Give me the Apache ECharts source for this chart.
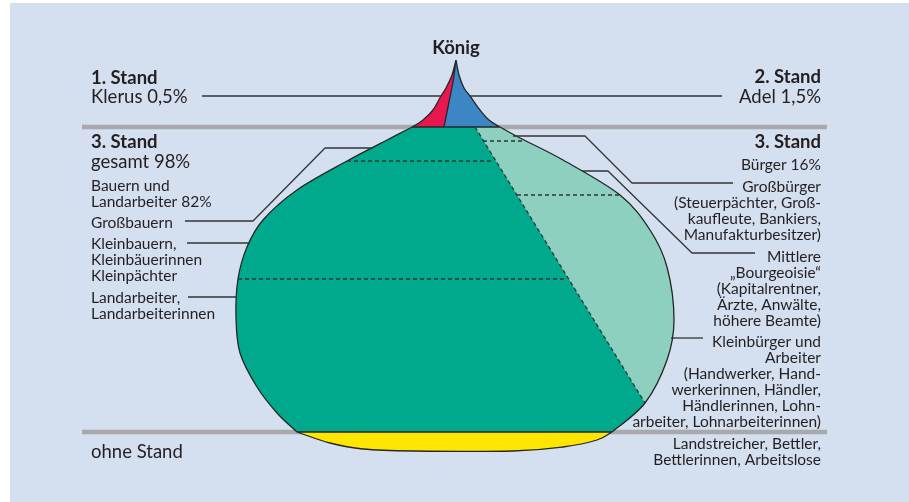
<!DOCTYPE html>
<html><head><meta charset="utf-8">
<script src="https://cdn.jsdelivr.net/npm/echarts/dist/echarts.min.js"></script>
<style>html,body{margin:0;padding:0;background:#fff}#c{width:909px;height:502px}</style>
</head><body><div id="c"></div>
<script>
// Shares of the estates (percent of population), as given in the picture
const estates = ['Klerus', 'Adel', 'Bauern und Landarbeiter', 'Bürger', 'ohne Stand'];
const shares = [0.5, 1.5, 82, 16, null];

// Outline of the "onion" (plot units of a 909 x 502 frame)
const leftOutline = [[456,60],[452,75],[446,88],[441,96],[433,110],[423,120],[412,127],[387,140],[347,161],[297,190],[263,220],[247,247],[238,279],[236,317],[240,353],[257,387],[277,413],[297,432]];
const rightOutline = [[456,60],[459,75],[464,88],[470,96],[480,110],[489,120],[500,127],[520,138],[563,160],[620,195],[650,230],[667,267],[674,320],[667,360],[645,403],[612,432]];
const bottomOutline = [[297,432],[330,443],[363,449],[413,451],[513,451],[563,447],[597,440],[612,432]];
const spireSplit = [[456,60],[453,82],[449,102],[444,127]];
const buergerTop = [475,127];
const standLines = [[[82,127],[827,127]], [[82,432],[827,432]]];
const dashedLines = [[[347,161],[493,161]], [[238,279],[567,279]], [[483,141],[522,141]], [[517,195],[620,195]], [[475,127],[645,403]]];
const connectors = [
  [[202,96],[441,96]],
  [[470,96],[722,96]],
  [[185,221],[253,221],[325,148],[373,148]],
  [[187,243],[249,243]],
  [[188,297],[237,297]],
  [[513,136],[585,136],[632,183],[733,183]],
  [[582,171],[608,171],[692,253],[755,253]],
  [[671,338],[703,338]]
];
const regionColors = ['#e8174f', '#3d86c6', '#00a98b', '#8dd0bf', '#ffe600'];

// Labels: text, centre line, size, weight
const BIG = 18.5, SMALL = 15.5;
const leftLabels = [
  ['1. Stand', 78, BIG, 'bold'], ['Klerus 0,5%', 97, BIG, 'normal'],
  ['3. Stand', 142, BIG, 'bold'], ['gesamt 98%', 162, BIG, 'normal'],
  ['Bauern und', 185, SMALL, 'normal'], ['Landarbeiter 82%', 201, SMALL, 'normal'],
  ['Großbauern', 222, SMALL, 'normal'],
  ['Kleinbauern,', 243, SMALL, 'normal'], ['Kleinbäuerinnen', 259, SMALL, 'normal'], ['Kleinpächter', 275, SMALL, 'normal'],
  ['Landarbeiter,', 297, SMALL, 'normal'], ['Landarbeiterinnen', 313, SMALL, 'normal'],
  ['ohne Stand', 452, BIG, 'normal']
];
const rightLabels = [
  ['2. Stand', 77, BIG, 'bold'], ['Adel 1,5%', 97, BIG, 'normal'],
  ['3. Stand', 142, BIG, 'bold'], ['Bürger 16%', 164, SMALL, 'normal'],
  ['Großbürger', 186, SMALL, 'normal'], ['(Steuerpächter, Groß-', 202, SMALL, 'normal'],
  ['kaufleute, Bankiers,', 218, SMALL, 'normal'], ['Manufakturbesitzer)', 234, SMALL, 'normal'],
  ['Mittlere', 256, SMALL, 'normal'], ['„Bourgeoisie“', 272, SMALL, 'normal'], ['(Kapitalrentner,', 288, SMALL, 'normal'],
  ['Ärzte, Anwälte,', 304, SMALL, 'normal'], ['höhere Beamte)', 320, SMALL, 'normal'],
  ['Kleinbürger und', 341, SMALL, 'normal'], ['Arbeiter', 357, SMALL, 'normal'], ['(Handwerker, Hand-', 373, SMALL, 'normal'],
  ['werkerinnen, Händler,', 389, SMALL, 'normal'], ['Händlerinnen, Lohn-', 405, SMALL, 'normal'], ['arbeiter, Lohnarbeiterinnen)', 421, SMALL, 'normal'],
  ['Landstreicher, Bettler,', 443, SMALL, 'normal'], ['Bettlerinnen, Arbeitslose', 459, SMALL, 'normal']
];
const topLabel = ['König', 48, BIG, 'bold'];

const FONT = 'Lato, "Noto Sans", sans-serif';
const INK = '#231f20';

const chart = echarts.init(document.getElementById('c'), null, {renderer: 'canvas'});

function curve(P, i, j) {
  let s = '';
  const st = j > i ? 1 : -1;
  for (let k = i; k !== j; k += st) {
    const p1 = P[k], p2 = P[k + st];
    const p0 = P[k - st] || p1, p3 = P[k + 2 * st] || p2;
    const c1 = [p1[0] + (p2[0] - p0[0]) / 6, p1[1] + (p2[1] - p0[1]) / 6];
    const c2 = [p2[0] - (p3[0] - p1[0]) / 6, p2[1] - (p3[1] - p1[1]) / 6];
    s += 'C' + c1[0] + ' ' + c1[1] + ' ' + c2[0] + ' ' + c2[1] + ' ' + p2[0] + ' ' + p2[1];
  }
  return s;
}
const pt = p => p[0] + ' ' + p[1];

function regionPath(api, idx) {
  const L = leftOutline.map(p => api.coord(p));
  const R = rightOutline.map(p => api.coord(p));
  const B = bottomOutline.map(p => api.coord(p));
  const S = spireSplit.map(p => api.coord(p));
  const T = api.coord(buergerTop);
  const jl = 6, jr = 6, nl = L.length - 1, nr = R.length - 1, dI = 14;
  switch (idx) {
    case 0: return 'M' + pt(L[0]) + curve(L, 0, jl) + 'L' + pt(S[S.length - 1]) + curve(S, S.length - 1, 0) + 'Z';
    case 1: return 'M' + pt(S[0]) + curve(S, 0, S.length - 1) + 'L' + pt(R[jr]) + curve(R, jr, 0) + 'Z';
    case 2: return 'M' + pt(L[jl]) + curve(L, jl, nl) + 'L' + pt(R[nr]) + curve(R, nr, jr) + 'Z';
    case 3: return 'M' + pt(T) + 'L' + pt(R[dI]) + curve(R, dI, jr) + 'Z';
    case 4: return 'M' + pt(B[0]) + curve(B, 0, B.length - 1) + 'Z';
    case 5:
      return 'M' + pt(L[0]) + curve(L, 0, nl) +
        'M' + pt(R[0]) + curve(R, 0, nr) +
        'M' + pt(B[0]) + curve(B, 0, B.length - 1) +
        'M' + pt(S[0]) + curve(S, 0, S.length - 1) +
        'M' + pt(L[jl]) + 'L' + pt(R[jr]) +
        'M' + pt(L[nl]) + 'L' + pt(R[nr]);
  }
}

const series = [];
standLines.forEach(l => series.push({
  type: 'line', data: l, symbol: 'none', silent: true, z: 1,
  lineStyle: {color: '#a7a9ac', width: 4.5}
}));
series.push({
  type: 'custom', z: 2, silent: true,
  data: estates.map((e, i) => [i]).concat([[5]]),
  renderItem: function (params, api) {
    const idx = api.value(0);
    const isOutline = idx === 5;
    return {
      type: 'path',
      shape: {pathData: regionPath(api, idx)},
      z2: isOutline ? 10 : idx,
      style: isOutline ? {fill: null, stroke: '#262626', lineWidth: 1.3} : {fill: regionColors[idx], stroke: null}
    };
  }
});
dashedLines.forEach(l => series.push({
  type: 'line', data: l, symbol: 'none', silent: true, z: 3,
  lineStyle: {color: '#333', width: 1.3, type: [4, 3]}
}));
connectors.forEach(l => series.push({
  type: 'line', data: l, symbol: 'none', silent: true, z: 3,
  lineStyle: {color: '#333', width: 1.3}
}));

const texts = [];
leftLabels.forEach(l => texts.push({type: 'text', x: 91, y: l[1] + 0.5,
  style: {text: l[0], font: l[3] + ' ' + l[2] + 'px ' + FONT, fill: INK, textAlign: 'left', textVerticalAlign: 'middle'}}));
rightLabels.forEach(l => texts.push({type: 'text', x: 821, y: l[1] + 0.5,
  style: {text: l[0], font: l[3] + ' ' + l[2] + 'px ' + FONT, fill: INK, textAlign: 'right', textVerticalAlign: 'middle'}}));
texts.push({type: 'text', x: 456, y: topLabel[1] + 0.5, style: {text: topLabel[0], font: topLabel[3] + ' ' + topLabel[2] + 'px ' + FONT, fill: INK, textAlign: 'center', textVerticalAlign: 'middle'}});

chart.setOption({
  animation: false,
  backgroundColor: '#fff',
  grid: {left: 0, right: 0, top: 0, bottom: 0},
  xAxis: {type: 'value', min: 0, max: 909, show: false},
  yAxis: {type: 'value', min: 0, max: 502, inverse: true, show: false},
  graphic: [{type: 'rect', shape: {x: 10, y: 3, width: 899, height: 499}, style: {fill: '#d4dff0'}, z: -10}].concat(texts),
  series: series
});
</script></body></html>
